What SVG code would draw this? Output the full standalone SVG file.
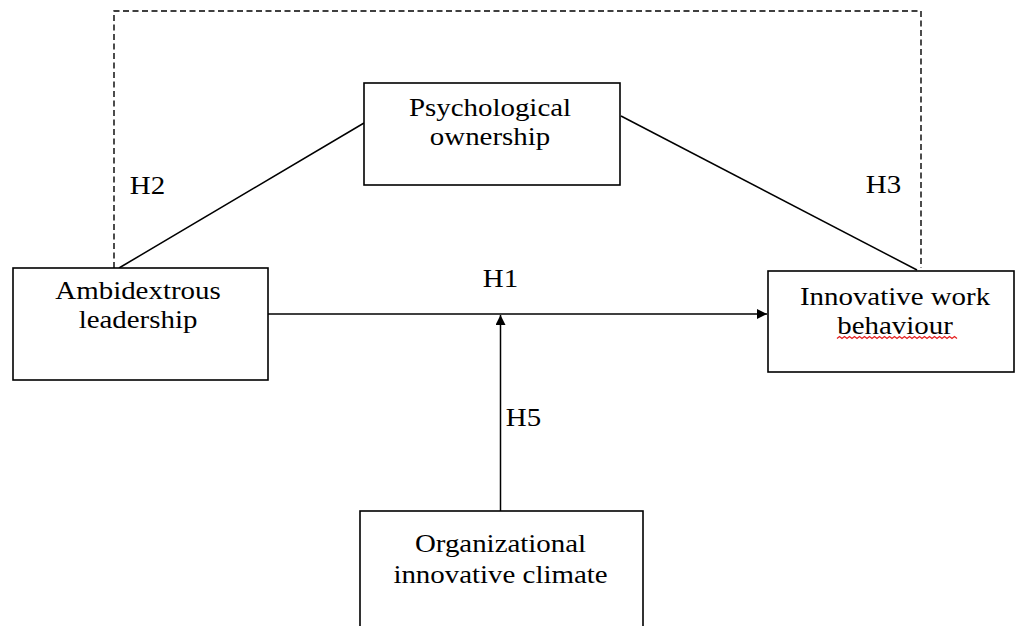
<svg xmlns="http://www.w3.org/2000/svg" width="1015" height="626" viewBox="0 0 1015 626">
<defs>
<style>
.box{fill:#fff;stroke:#000;stroke-width:1.6}
.ln{fill:none;stroke:#000;stroke-width:1.5}
.dash{fill:none;stroke:#000;stroke-width:1.4;stroke-dasharray:6,3.5}
.t{font-family:"Liberation Serif","Times New Roman",serif;font-size:24.5px;fill:#000;text-anchor:middle}
</style>
<marker id="arr" viewBox="0 0 10 10" refX="10" refY="5" markerWidth="11" markerHeight="10" markerUnits="userSpaceOnUse" orient="auto">
<path d="M0,0 L10,5 L0,10 z" fill="#000"/>
</marker>
</defs>
<rect width="1015" height="626" fill="#fff"/>
<g id="connectors">
<polyline class="dash" points="114,268 114,11 921,11 921,268"/>
<line class="ln" x1="119" y1="268" x2="364" y2="123"/>
<line class="ln" x1="621" y1="116" x2="917" y2="270"/>
<line class="ln" x1="268" y1="314" x2="767" y2="314" marker-end="url(#arr)"/>
<line class="ln" x1="500.5" y1="511" x2="500.5" y2="315" marker-end="url(#arr)"/>
<text class="t" transform="translate(147.5,194) scale(1.18,1)">H2</text>
<text class="t" transform="translate(883.5,193) scale(1.18,1)">H3</text>
<text class="t" transform="translate(500.5,287) scale(1.18,1)">H1</text>
<text class="t" transform="translate(523.5,426) scale(1.18,1)">H5</text>
</g>
<g id="psychological-ownership">
<rect class="box" x="364" y="83" width="256" height="102"/>
<text class="t" transform="translate(490,116) scale(1.18,1)"><tspan x="0" y="0">Psychological</tspan><tspan x="0" y="29">ownership</tspan></text>
</g>
<g id="ambidextrous-leadership">
<rect class="box" x="13" y="268" width="255" height="112"/>
<text class="t" transform="translate(138,299) scale(1.18,1)"><tspan x="0" y="0">Ambidextrous</tspan><tspan x="0" y="29">leadership</tspan></text>
</g>
<g id="innovative-work-behaviour">
<rect class="box" x="768" y="271" width="246" height="101"/>
<text class="t" transform="translate(895,305) scale(1.18,1)"><tspan x="0" y="0">Innovative work</tspan><tspan x="0" y="29">behaviour</tspan></text>
<path d="M837,338.5 l2.5,-2 l2.5,2 l2.5,-2 l2.5,2 l2.5,-2 l2.5,2 l2.5,-2 l2.5,2 l2.5,-2 l2.5,2 l2.5,-2 l2.5,2 l2.5,-2 l2.5,2 l2.5,-2 l2.5,2 l2.5,-2 l2.5,2 l2.5,-2 l2.5,2 l2.5,-2 l2.5,2 l2.5,-2 l2.5,2 l2.5,-2 l2.5,2 l2.5,-2 l2.5,2 l2.5,-2 l2.5,2 l2.5,-2 l2.5,2 l2.5,-2 l2.5,2 l2.5,-2 l2.5,2 l2.5,-2 l2.5,2 l2.5,-2 l2.5,2 l2.5,-2 l2.5,2 l2.5,-2 l2.5,2 l2.5,-2 l2.5,2 l2.5,-2 l2.5,2" fill="none" stroke="#e52222" stroke-width="1.3"/>
</g>
<g id="organizational-innovative-climate">
<rect class="box" x="360" y="511" width="283" height="130"/>
<text class="t" transform="translate(500.5,552) scale(1.18,1)"><tspan x="0" y="0">Organizational</tspan><tspan x="0" y="31">innovative climate</tspan></text>
</g>
</svg>
